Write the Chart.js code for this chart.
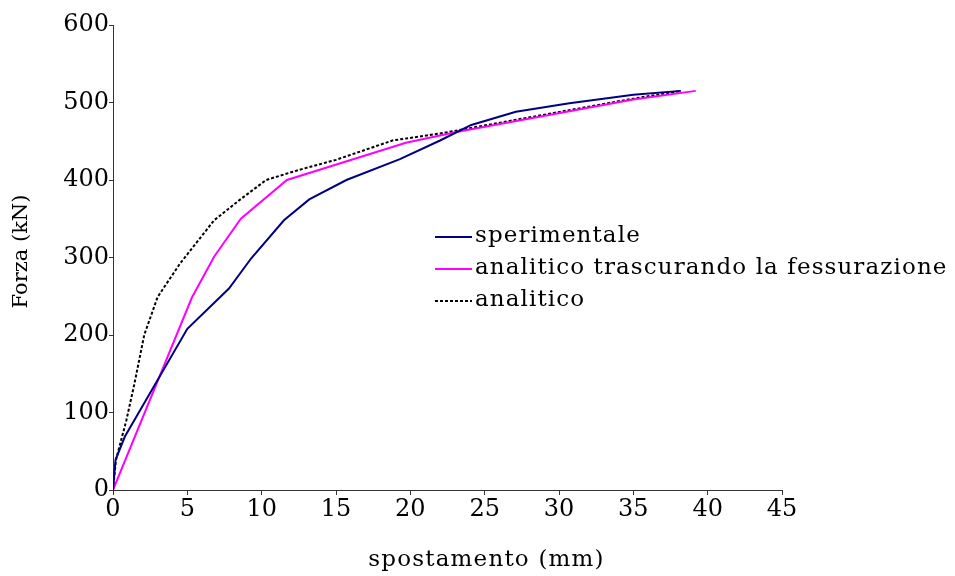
<!DOCTYPE html>
<html>
<head>
<meta charset="utf-8">
<script src="https://cdn.jsdelivr.net/npm/chart.js@4.4.1/dist/chart.umd.min.js"></script>
<style>
  html, body { margin: 0; padding: 0; background: #fff; }
  #wrap { width: 955px; height: 576px; }
</style>
</head>
<body>
<div id="wrap"><canvas id="c" width="955" height="576"></canvas></div>
<script>
// Force–displacement curves (displacement in mm, force in kN)
const seriesNames = ['sperimentale', 'analitico trascurando la fessurazione', 'analitico'];

const sperimentaleX = [0, 0.17, 0.8, 5.0, 7.8, 9.3, 11.5, 13.2, 15.7, 19.3, 22.0, 24.1, 27.1, 30.7, 35.0, 38.2];
const sperimentaleY = [0, 39, 69, 208, 260, 299, 348, 375, 400, 427, 451, 471, 488, 499, 510, 515];

const trascurandoX = [0, 5.3, 6.8, 8.6, 11.7, 19.7, 23.1, 35.0, 39.2];
const trascurandoY = [0, 248, 301, 350, 400, 448, 462, 504, 515];

const analiticoX = [0, 0.2, 0.9, 1.45, 2.1, 3.0, 4.5, 6.8, 8.5, 10.3, 12.5, 15.0, 18.8, 22.0, 35.0, 38.2];
const analiticoY = [0, 39, 90, 138, 200, 249, 292, 348, 374, 400, 413, 426, 451, 460, 505, 515];

const xTicks = [0, 5, 10, 15, 20, 25, 30, 35, 40, 45];
const yTicks = [0, 100, 200, 300, 400, 500, 600];

const xTitle = 'spostamento (mm)';
const yTitle = 'Forza (kN)';

const FONT = '"DejaVu Serif", "Liberation Serif", serif';

function toPoints(xs, ys) { return xs.map((x, i) => ({ x: x, y: ys[i] })); }

// Legend drawn inside the plot area plus the two axis captions
const captions = {
  id: 'captions',
  afterDraw(chart) {
    const ctx = chart.ctx;
    const a = chart.chartArea;
    ctx.save();
    ctx.fillStyle = '#000';
    ctx.textBaseline = 'middle';

    // legend
    ctx.font = '23px ' + FONT;
    ctx.letterSpacing = '1.1px';
    const lx = a.left + 322, lw = 37;
    let ly = a.top + 212;
    chart.data.datasets.forEach(ds => {
      ctx.strokeStyle = ds.borderColor;
      ctx.lineWidth = ds.borderWidth;
      ctx.setLineDash(ds.borderDash || []);
      ctx.beginPath();
      ctx.moveTo(lx, ly);
      ctx.lineTo(lx + lw, ly);
      ctx.stroke();
      ctx.setLineDash([]);
      ctx.textAlign = 'left';
      ctx.fillText(ds.label, lx + lw + 3, ly - 1);
      ly += 32;
    });

    // x caption
    ctx.textAlign = 'center';
    ctx.letterSpacing = '1.2px';
    ctx.fillText(xTitle, (a.left + a.right) / 2 + 39, a.bottom + 70);

    // y caption
    ctx.font = '21px ' + FONT;
    ctx.letterSpacing = '0px';
    ctx.translate(a.left - 91, (a.top + a.bottom) / 2 - 6);
    ctx.rotate(-Math.PI / 2);
    ctx.fillText(yTitle, 0, 0);
    ctx.restore();
  }
};

new Chart(document.getElementById('c'), {
  type: 'scatter',
  data: {
    datasets: [
      { label: seriesNames[0], data: toPoints(sperimentaleX, sperimentaleY),
        borderColor: '#000080', borderWidth: 2, showLine: true, pointRadius: 0, tension: 0 },
      { label: seriesNames[1], data: toPoints(trascurandoX, trascurandoY),
        borderColor: '#ff00ff', borderWidth: 2, showLine: true, pointRadius: 0, tension: 0 },
      { label: seriesNames[2], data: toPoints(analiticoX, analiticoY),
        borderColor: '#000000', borderWidth: 2, borderDash: [3, 2], showLine: true, pointRadius: 0, tension: 0 }
    ]
  },
  options: {
    responsive: false,
    animation: false,
    layout: { padding: { left: 0, right: 173, top: 25, bottom: 0 } },
    plugins: { legend: { display: false }, tooltip: { enabled: false } },
    scales: {
      x: {
        type: 'linear', min: 0, max: 45,
        afterBuildTicks: s => { s.ticks = xTicks.map(v => ({ value: v })); },
        afterFit: s => { s.height = 86; },
        grid: { drawOnChartArea: false, drawTicks: true, tickLength: 5, color: '#333' },
        border: { color: '#333', width: 1 },
        ticks: { color: '#000', font: { family: FONT, size: 24 }, padding: 0, maxRotation: 0 }
      },
      y: {
        type: 'linear', min: 0, max: 600,
        afterBuildTicks: s => { s.ticks = yTicks.map(v => ({ value: v })); },
        afterFit: s => { s.width = 113; },
        grid: { drawOnChartArea: false, drawTicks: true, tickLength: 4, color: '#333' },
        border: { color: '#333', width: 1 },
        ticks: { color: '#000', font: { family: FONT, size: 24 }, padding: 0 }
      }
    }
  },
  plugins: [captions]
});
</script>
</body>
</html>
